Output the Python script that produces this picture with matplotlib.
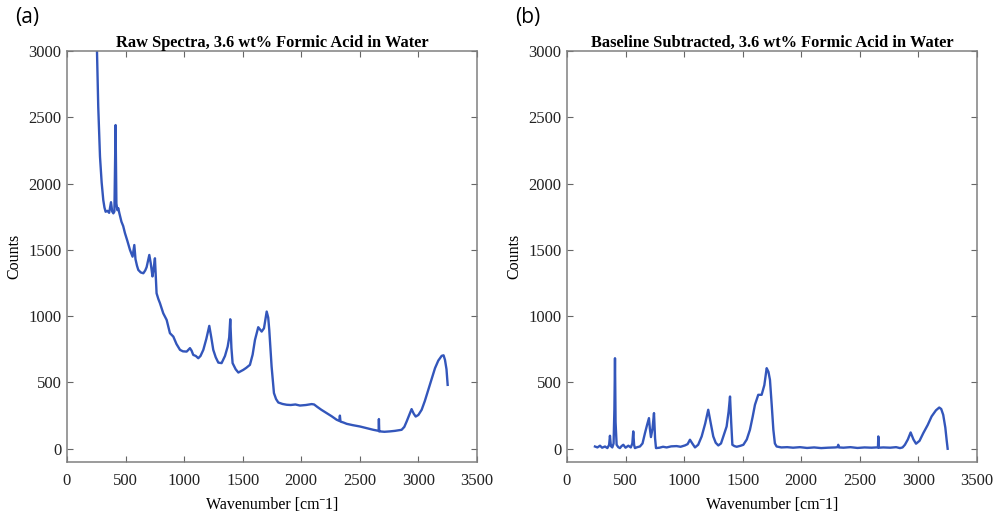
import matplotlib
matplotlib.use("Agg")
import matplotlib.pyplot as plt

# Spektrum (a): Rohdaten
raw_wn = [240, 255, 267, 282, 296, 310, 320, 330, 345, 360, 376, 386, 396, 405, 415,
          422, 430, 438, 447, 465, 480, 495, 515, 538, 560, 575, 585, 598, 609, 630,
          652, 668, 680, 703, 715, 723, 730, 740, 751, 758, 765, 780, 794, 822, 851,
          879, 908, 935, 965, 990, 1022, 1050, 1064, 1078, 1100, 1121, 1140, 1164, 1190,
          1215, 1232, 1249, 1270, 1292, 1320, 1349, 1372, 1385, 1394, 1404, 1414, 1440,
          1463, 1485, 1505, 1530, 1562, 1585, 1605, 1633, 1662, 1682, 1705, 1718, 1727,
          1737, 1747, 1767, 1785, 1804, 1840, 1875, 1910, 1950, 1989, 2040, 2089, 2110,
          2132, 2170, 2217, 2260, 2302, 2325, 2330, 2335, 2360, 2388, 2440, 2501, 2560,
          2615, 2650, 2661, 2663, 2666, 2672, 2710, 2757, 2800, 2857, 2880, 2900, 2920,
          2942, 2960, 2977, 3000, 3028, 3055, 3085, 3115, 3142, 3170, 3199, 3215, 3227,
          3240, 3250]
raw_counts = [3400, 3050, 2580, 2203, 2010, 1876, 1820, 1788, 1795, 1780, 1860, 1790,
              1776, 1790, 2442, 1850, 1800, 1815, 1778, 1713, 1680, 1627, 1570, 1500,
              1449, 1537, 1430, 1380, 1349, 1330, 1324, 1345, 1370, 1462, 1400, 1349,
              1300, 1360, 1437, 1300, 1173, 1130, 1098, 1022, 972, 872, 846, 790, 746,
              735, 733, 759, 740, 708, 700, 683, 700, 746, 830, 927, 840, 746, 690, 650,
              646, 700, 771, 840, 977, 760, 646, 600, 575, 585, 595, 610, 633, 710, 821,
              917, 884, 909, 1035, 990, 897, 760, 620, 420, 375, 349, 338, 332, 330,
              334, 326, 330, 337, 334, 319, 295, 269, 245, 219, 210, 250, 205, 198, 188,
              178, 168, 155, 143, 137, 135, 224, 130, 131, 128, 131, 135, 143, 165, 206,
              250, 299, 265, 243, 255, 294, 360, 445, 530, 608, 665, 701, 705, 671, 600,
              482]

# Spektrum (b): nach Basislinienabzug
sub_wn = [239, 260, 282, 300, 325, 345, 360, 367, 375, 387, 398, 405, 410, 415, 424,
          438, 452, 466, 481, 500, 524, 545, 558, 566, 573, 580, 600, 623, 645, 666,
          684, 700, 708, 717, 730, 743, 752, 760, 790, 820, 851, 890, 936, 970, 1007,
          1030, 1050, 1070, 1093, 1120, 1150, 1180, 1206, 1228, 1249, 1270, 1292, 1315,
          1335, 1363, 1380, 1392, 1402, 1412, 1430, 1449, 1480, 1506, 1535, 1562, 1585,
          1605, 1633, 1662, 1685, 1705, 1720, 1733, 1748, 1762, 1775, 1790, 1830, 1880,
          1930, 1989, 2050, 2110, 2170, 2230, 2290, 2310, 2316, 2322, 2360, 2420, 2480,
          2540, 2600, 2640, 2655, 2658, 2661, 2700, 2760, 2810, 2843, 2865, 2885, 2910,
          2934, 2958, 2980, 3010, 3042, 3080, 3113, 3150, 3178, 3195, 3212, 3230, 3242,
          3250]
sub_counts = [17, 10, 23, 8, 17, 5, 30, 98, 20, 10, 40, 300, 683, 200, 30,
              12, 5, 20, 30, 8, 23, 10, 40, 131, 30, 5, 12, 17, 40, 118,
              180, 231, 150, 88, 150, 269, 80, 5, 8, 15, 10, 18, 20, 15, 25,
              35, 68, 40, 10, 30, 93, 190, 294, 190, 93, 45, 25, 40,
              93, 168, 280, 394, 200, 30, 20, 15, 22, 30, 70, 143, 240,
              332, 407, 407, 480, 608, 580, 520, 330, 143, 40, 17, 10, 12,
              8, 12, 6, 10, 5, 8, 10, 12, 30, 10, 8, 12, 6,
              10, 8, 10, 10, 93, 8, 10, 8, 12, 5, 10, 30, 70,
              123, 70, 38, 60, 118, 180, 244, 290, 311, 300, 256, 160, 60,
              0]

panels = ["(a)", "(b)"]
titles = ["Raw Spectra, 3.6 wt% Formic Acid in Water",
          "Baseline Subtracted, 3.6 wt% Formic Acid in Water"]
x_ticks = [0, 500, 1000, 1500, 2000, 2500, 3000, 3500]
y_ticks = [0, 500, 1000, 1500, 2000, 2500, 3000]

line_color = "#3356bb"
serif = ["Liberation Serif", "DejaVu Serif"]

fig = plt.figure(figsize=(9.98, 5.13), dpi=100)
positions = [[0.0671, 0.0994, 0.4108, 0.801], [0.5681, 0.0994, 0.4108, 0.801]]
data = [(raw_wn, raw_counts), (sub_wn, sub_counts)]

for pos, (wn, cnt), title, tag in zip(positions, data, titles, panels):
    ax = fig.add_axes(pos)
    ax.plot(wn, cnt, color=line_color, lw=1.7)
    ax.set_xlim(0, 3500)
    ax.set_ylim(-100, 3000)
    ax.set_xticks(x_ticks)
    ax.set_yticks(y_ticks)
    ax.tick_params(direction="in", top=True, right=True, length=4, width=0.8,
                   color="#666666", labelsize=12, labelcolor="#222222")
    ax.tick_params(axis="x", pad=8)
    ax.tick_params(axis="y", pad=4)
    for lab in ax.get_xticklabels() + ax.get_yticklabels():
        lab.set_family(serif)
    for sp in ax.spines.values():
        sp.set_color("#808080")
        sp.set_linewidth(1.1)
    ax.set_title(title, family=serif, fontweight="bold", fontsize=11.8, pad=3)
    ax.set_xlabel("Wavenumber [cm\u02c91]", family=serif, fontsize=11.5, labelpad=6)
    ax.set_ylabel("Counts", family=serif, fontsize=11.5, labelpad=4)
    fig.text(pos[0] - 0.052, 0.965, tag, family=["Open Sans", "DejaVu Sans"],
             fontsize=15, va="center", ha="left")

fig.savefig("out.png", dpi=100)
